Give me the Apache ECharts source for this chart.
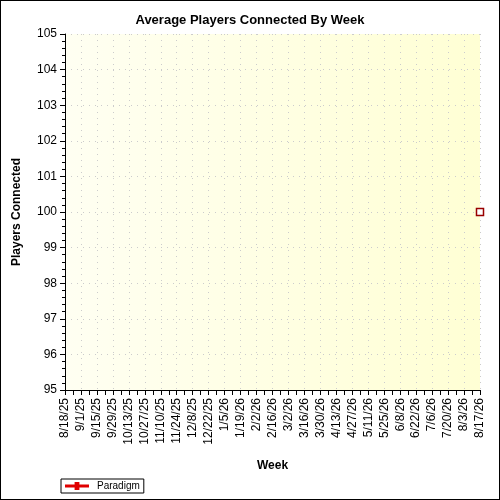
<!DOCTYPE html><html><head><meta charset="utf-8"><script src="https://cdn.jsdelivr.net/npm/echarts@6/dist/echarts.min.js"></script>
<style>body{margin:0}#c{width:498px;height:498px;border:1px solid #000}</style></head><body><div id="c"></div><script>
const weeks=[];(function(){const d=new Date(2025,7,18);for(let i=0;i<53;i++){const t=new Date(d.getTime()+i*7*864e5);weeks.push((t.getMonth()+1)+'/'+t.getDate()+'/'+String(t.getFullYear()).slice(2));}})();
const paradigm=new Array(52).fill(null).concat([100]);
const c=echarts.init(document.getElementById('c'));
c.setOption({animation:false,backgroundColor:'#fff',
title:{text:'Average Players Connected By Week',left:'center',top:8,textStyle:{fontSize:13,fontWeight:'bold',color:'#000',fontFamily:'Arial'}},
legend:{left:60,bottom:6,itemWidth:30,itemHeight:8,borderColor:'#000',borderWidth:1,padding:[2,4],textStyle:{fontSize:10,fontFamily:'Arial',color:'#000'},
data:[{name:'Paradigm',icon:'path://M0,3H12V0H18V3H30V7H18V10H12V7H0Z',itemStyle:{color:'#e00000',borderWidth:0}}]},
grid:{left:64,right:19,top:33,bottom:109,backgroundColor:{type:'linear',x:0,y:0,x2:1,y2:0,colorStops:[{offset:0,color:'#fffff2'},{offset:1,color:'#ffffd4'}]},show:true,borderWidth:0},
xAxis:{type:'category',data:weeks,boundaryGap:false,name:'Week',nameLocation:'middle',nameGap:70,nameTextStyle:{fontWeight:'bold',fontSize:12,fontFamily:'Arial',color:'#000'},
axisLine:{lineStyle:{color:'#000'}},axisTick:{interval:0,lineStyle:{color:'#000'}},
axisLabel:{interval:1,rotate:90,fontSize:12,fontFamily:'Arial',color:'#000'},
splitLine:{show:true,interval:1,lineStyle:{color:'#ccc',type:[1,5]}}},
yAxis:{type:'value',min:95,max:105,interval:1,name:'Players Connected',nameLocation:'middle',nameGap:42,nameTextStyle:{fontWeight:'bold',fontSize:12,fontFamily:'Arial',color:'#000'},
axisLine:{show:true,lineStyle:{color:'#000'}},axisTick:{show:true,length:5,lineStyle:{color:'#000'}},minorTick:{show:true,splitNumber:5,length:3,lineStyle:{color:'#000'}},
axisLabel:{fontSize:12,fontFamily:'Arial',color:'#000'},
splitLine:{lineStyle:{color:'#ccc',type:[1,5]}},minorSplitLine:{show:false}},
series:[{name:'Paradigm',type:'line',data:paradigm,color:'#e00000',symbol:'rect',symbolSize:7,showAllSymbol:true,itemStyle:{color:'#fff',borderColor:'#900',borderWidth:1.5},lineStyle:{color:'#e00000',width:3}}]});
</script></body></html>
